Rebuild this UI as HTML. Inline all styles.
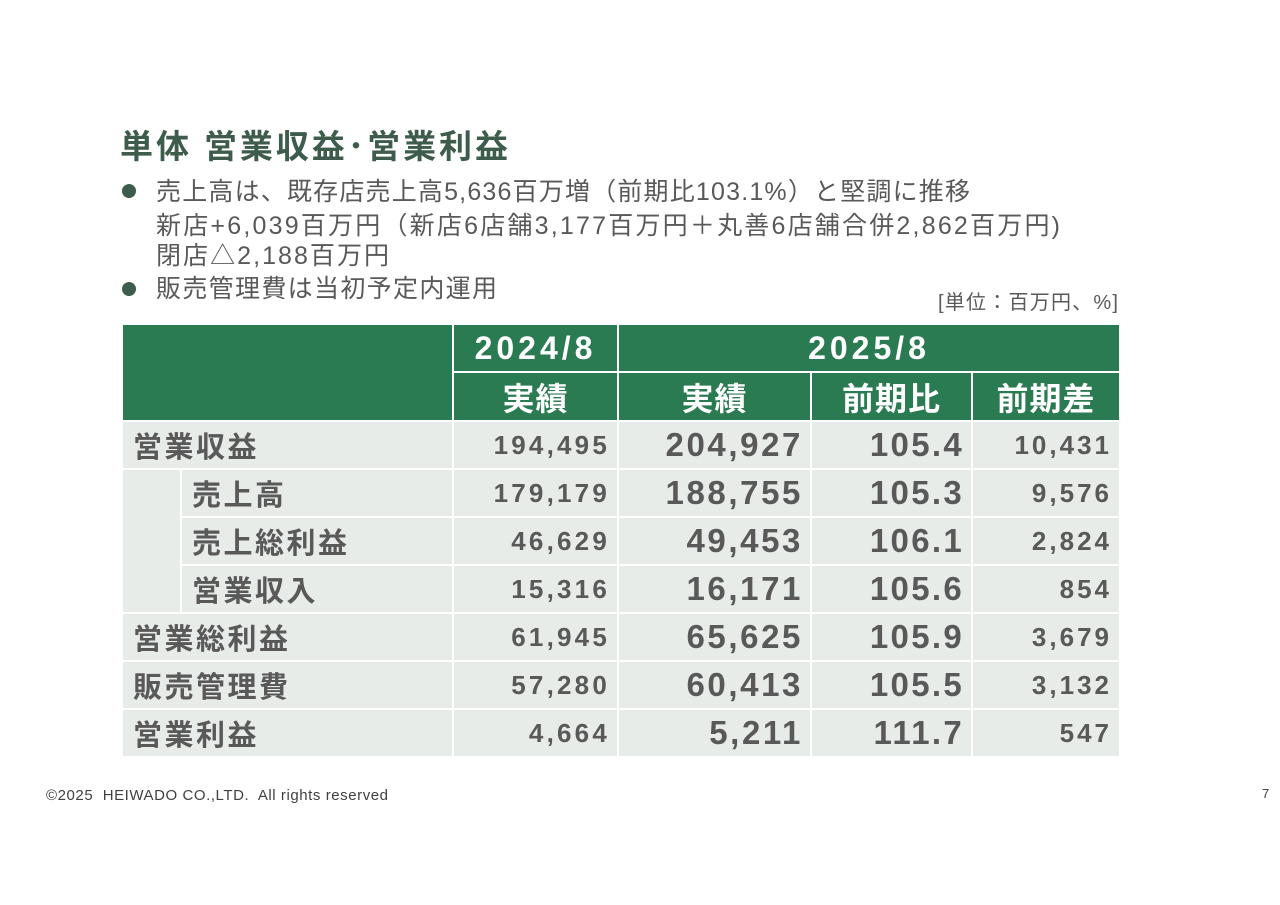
<!DOCTYPE html>
<html><head><meta charset="utf-8"><style>
body{margin:0;width:1280px;height:905px;background:#fff;position:relative;overflow:hidden;font-family:"Liberation Sans","Noto Sans CJK JP",sans-serif;color:#595959}
.a{position:absolute;white-space:nowrap}
.t{left:120px;top:120px;font-size:33px;font-weight:bold;color:#3d5c4b}
.b{font-size:25px;line-height:30px;color:#595959}
.dot{position:absolute;width:14px;height:14px;border-radius:50%;background:#3d5c4b}
.c{position:absolute;box-sizing:border-box;display:flex;align-items:center;font-weight:bold}
.h{background:#2a7a52;color:#fff;justify-content:center;font-size:32px;letter-spacing:1px}
.h.yr{letter-spacing:4px}
.d{background:#e8ece9;justify-content:flex-end;padding-right:7px}
.l{background:#e8ece9;padding-left:10px;font-size:29px;letter-spacing:2.5px}
</style></head><body>
<div class="a t fit" data-w="388">単体 営業収益･営業利益</div>
<div class="dot" style="left:122px;top:184px"></div>
<div class="a b fit" data-w="814" style="left:156px;top:177px">売上高は、既存店売上高5,636百万増（前期比103.1%）と堅調に推移</div>
<div class="a b fit" data-w="904" style="left:156px;top:211px">新店+6,039百万円（新店6店舗3,177百万円＋丸善6店舗合併2,862百万円)</div>
<div class="a b fit" data-w="233" style="left:156px;top:241px">閉店△2,188百万円</div>
<div class="dot" style="left:122px;top:282px"></div>
<div class="a b fit" data-w="341" style="left:156px;top:274px">販売管理費は当初予定内運用</div>
<div class="a fit" data-w="180" style="left:938px;top:286px;font-size:20px">[単位：百万円、%]</div>
<div id="tbl"></div>
<div class="a fit" data-w="342" style="left:46px;top:787px;font-size:15px;color:#404040">©2025&nbsp; HEIWADO CO.,LTD.&nbsp; All rights reserved</div>
<div class="a" style="left:1262px;top:786px;font-size:13px;color:#404040">7</div>
<script>
const labels=["営業収益","売上高","売上総利益","営業収入","営業総利益","販売管理費","営業利益"];
const indent=[0,1,1,1,0,0,0];
const prev=["194,495","179,179","46,629","15,316","61,945","57,280","4,664"];
const cur=["204,927","188,755","49,453","16,171","65,625","60,413","5,211"];
const ratio=["105.4","105.3","106.1","105.6","105.9","105.5","111.7"];
const diff=["10,431","9,576","2,824","854","3,679","3,132","547"];
const X=[123,452,617,810,971,1119];
const tbl=document.getElementById('tbl');
function cell(cls,x,y,w,h,txt,fs,ls,name){const e=document.createElement('div');e.className='c '+cls;
e.style.cssText=`left:${x}px;top:${y}px;width:${w}px;height:${h}px;`+(fs?`font-size:${fs}px;letter-spacing:${ls}px;`:'');e.textContent=txt;


tbl.appendChild(e);}
cell('h',X[0],325,X[1]-X[0],95,'',0,0,'header-blank');
cell('h yr',X[1]+2,325,X[2]-X[1]-2,46,'2024/8',0,0,'header-2024');
cell('h yr',X[2]+2,325,X[5]-X[2]-2,46,'2025/8',0,0,'header-2025');
cell('h',X[1]+2,373,X[2]-X[1]-2,47,'実績',0,0,'header-actual-2024');
cell('h',X[2]+2,373,X[3]-X[2]-2,47,'実績',0,0,'header-actual-2025');
cell('h',X[3]+2,373,X[4]-X[3]-2,47,'前期比',0,0,'header-yoy-ratio');
cell('h',X[4]+2,373,X[5]-X[4]-2,47,'前期差',0,0,'header-yoy-diff');
cell('l',X[0],470,57,142,'',0,0,'indent-spacer');
labels.forEach((lb,i)=>{const y=420+i*48+2,h=46;
 if(indent[i]) cell('l',182,y,X[1]-182,h,lb,0,0,'row-label');
 else cell('l',X[0],y,X[1]-X[0],h,lb,0,0,'row-label');
 cell('d',X[1]+2,y,X[2]-X[1]-2,h,prev[i],26,3.2,'value-2024');
 cell('d',X[2]+2,y,X[3]-X[2]-2,h,cur[i],33,2.6,'value-2025');
 cell('d',X[3]+2,y,X[4]-X[3]-2,h,ratio[i],33,2.3,'value-ratio');
 cell('d',X[4]+2,y,X[5]-X[4]-2,h,diff[i],26,3,'value-diff');
});
document.querySelectorAll('.fit').forEach(e=>{const t=+e.dataset.w;const w=e.getBoundingClientRect().width;const n=[...e.textContent].length;
 if(n>1) e.style.letterSpacing=((t-w)/(n-1))+'px';});
</script>
</body></html>
